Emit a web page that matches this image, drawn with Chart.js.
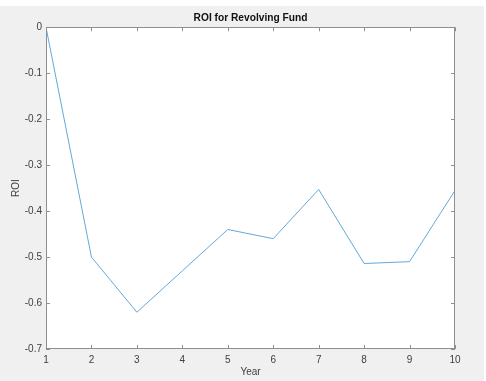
<!DOCTYPE html>
<html>
<head>
<meta charset="utf-8">
<script src="https://cdn.jsdelivr.net/npm/chart.js@4"></script>
<style>
  html, body { margin: 0; padding: 0; background: #ffffff; }
  #wrap { width: 486px; height: 381px; }
</style>
</head>
<body>
<div id="wrap"><canvas id="chart" width="486" height="381"></canvas></div>
<script>
// Data
const years = [1, 2, 3, 4, 5, 6, 7, 8, 9, 10];
const roi = [0, -0.5, -0.62, -0.53, -0.44, -0.46, -0.353, -0.514, -0.51, -0.355];
const yTicks = [0, -0.1, -0.2, -0.3, -0.4, -0.5, -0.6, -0.7];

const axisColor = "#8f8f8f";
const fontFamily = "'Liberation Sans', Arial, sans-serif";

// Grey figure background and white axes box, like MATLAB
const background = {
  id: "background",
  beforeDraw(chart) {
    const { ctx, chartArea } = chart;
    ctx.save();
    ctx.fillStyle = "#f0f0f0";
    ctx.fillRect(0, 6, 484, 375);
    ctx.fillStyle = "#ffffff";
    ctx.fillRect(chartArea.left, chartArea.top, chartArea.right - chartArea.left, chartArea.bottom - chartArea.top);
    ctx.restore();
  },
};

// Box outline and inward tick marks
const boxTicks = {
  id: "boxTicks",
  afterDraw(chart) {
    const { ctx, chartArea } = chart;
    const xs = chart.scales.x;
    const ys = chart.scales.y;
    const len = 4;
    ctx.save();
    ctx.strokeStyle = axisColor;
    ctx.lineWidth = 1;
    ctx.strokeRect(Math.round(chartArea.left) + 0.5, Math.round(chartArea.top) + 0.5,
      Math.round(chartArea.right - chartArea.left) - 1, Math.round(chartArea.bottom - chartArea.top) - 1);
    ctx.beginPath();
    years.forEach((v) => {
      const px = Math.round(xs.getPixelForValue(v)) + 0.5;
      ctx.moveTo(px, chartArea.bottom);
      ctx.lineTo(px, chartArea.bottom - len);
      ctx.moveTo(px, chartArea.top);
      ctx.lineTo(px, chartArea.top + len);
    });
    yTicks.forEach((v) => {
      const py = Math.round(ys.getPixelForValue(v)) + 0.5;
      ctx.moveTo(chartArea.left, py);
      ctx.lineTo(chartArea.left + len, py);
      ctx.moveTo(chartArea.right, py);
      ctx.lineTo(chartArea.right - len, py);
    });
    ctx.stroke();
    ctx.restore();
  },
};

const canvas = document.getElementById("chart");

new Chart(canvas, {
  type: "line",
  data: {
    datasets: [
      {
        data: years.map((x, i) => ({ x: x, y: roi[i] })),
        borderColor: "#62a9da",
        borderWidth: 1,
        pointRadius: 0,
        tension: 0,
        fill: false,
      },
    ],
  },
  options: {
    responsive: false,
    animation: false,
    layout: { padding: { left: 0, right: 31, top: 0, bottom: 0 } },
    plugins: {
      legend: { display: false },
      tooltip: { enabled: false },
      title: {
        display: true,
        text: "ROI for Revolving Fund",
        fullSize: false,
        color: "#111111",
        font: { family: fontFamily, size: 10.2, weight: "bold" },
        padding: { top: 12, bottom: 3 },
      },
    },
    scales: {
      x: {
        type: "linear",
        min: 1,
        max: 10,
        grid: { display: false, drawTicks: false },
        border: { display: false },
        ticks: {
          stepSize: 1,
          padding: 5,
          color: "#404040",
          font: { family: fontFamily, size: 10 },
        },
        title: {
          display: true,
          text: "Year",
          color: "#404040",
          font: { family: fontFamily, size: 10 },
          padding: { top: 0, bottom: 3 },
        },
        afterFit(scale) {
          scale.height = 32;
        },
      },
      y: {
        type: "linear",
        min: -0.7,
        max: 0,
        grid: { display: false, drawTicks: false },
        border: { display: false },
        afterBuildTicks(scale) {
          scale.ticks = yTicks.map((v) => ({ value: v }));
        },
        ticks: {
          padding: 4,
          color: "#404040",
          font: { family: fontFamily, size: 10 },
          callback: (v) => String(+v.toFixed(1)),
        },
        title: {
          display: true,
          text: "ROI",
          color: "#404040",
          font: { family: fontFamily, size: 10 },
          padding: { top: 10, bottom: 0 },
        },
        afterFit(scale) {
          scale.width = 46;
        },
      },
    },
  },
  plugins: [background, boxTicks],
});
</script>
</body>
</html>
